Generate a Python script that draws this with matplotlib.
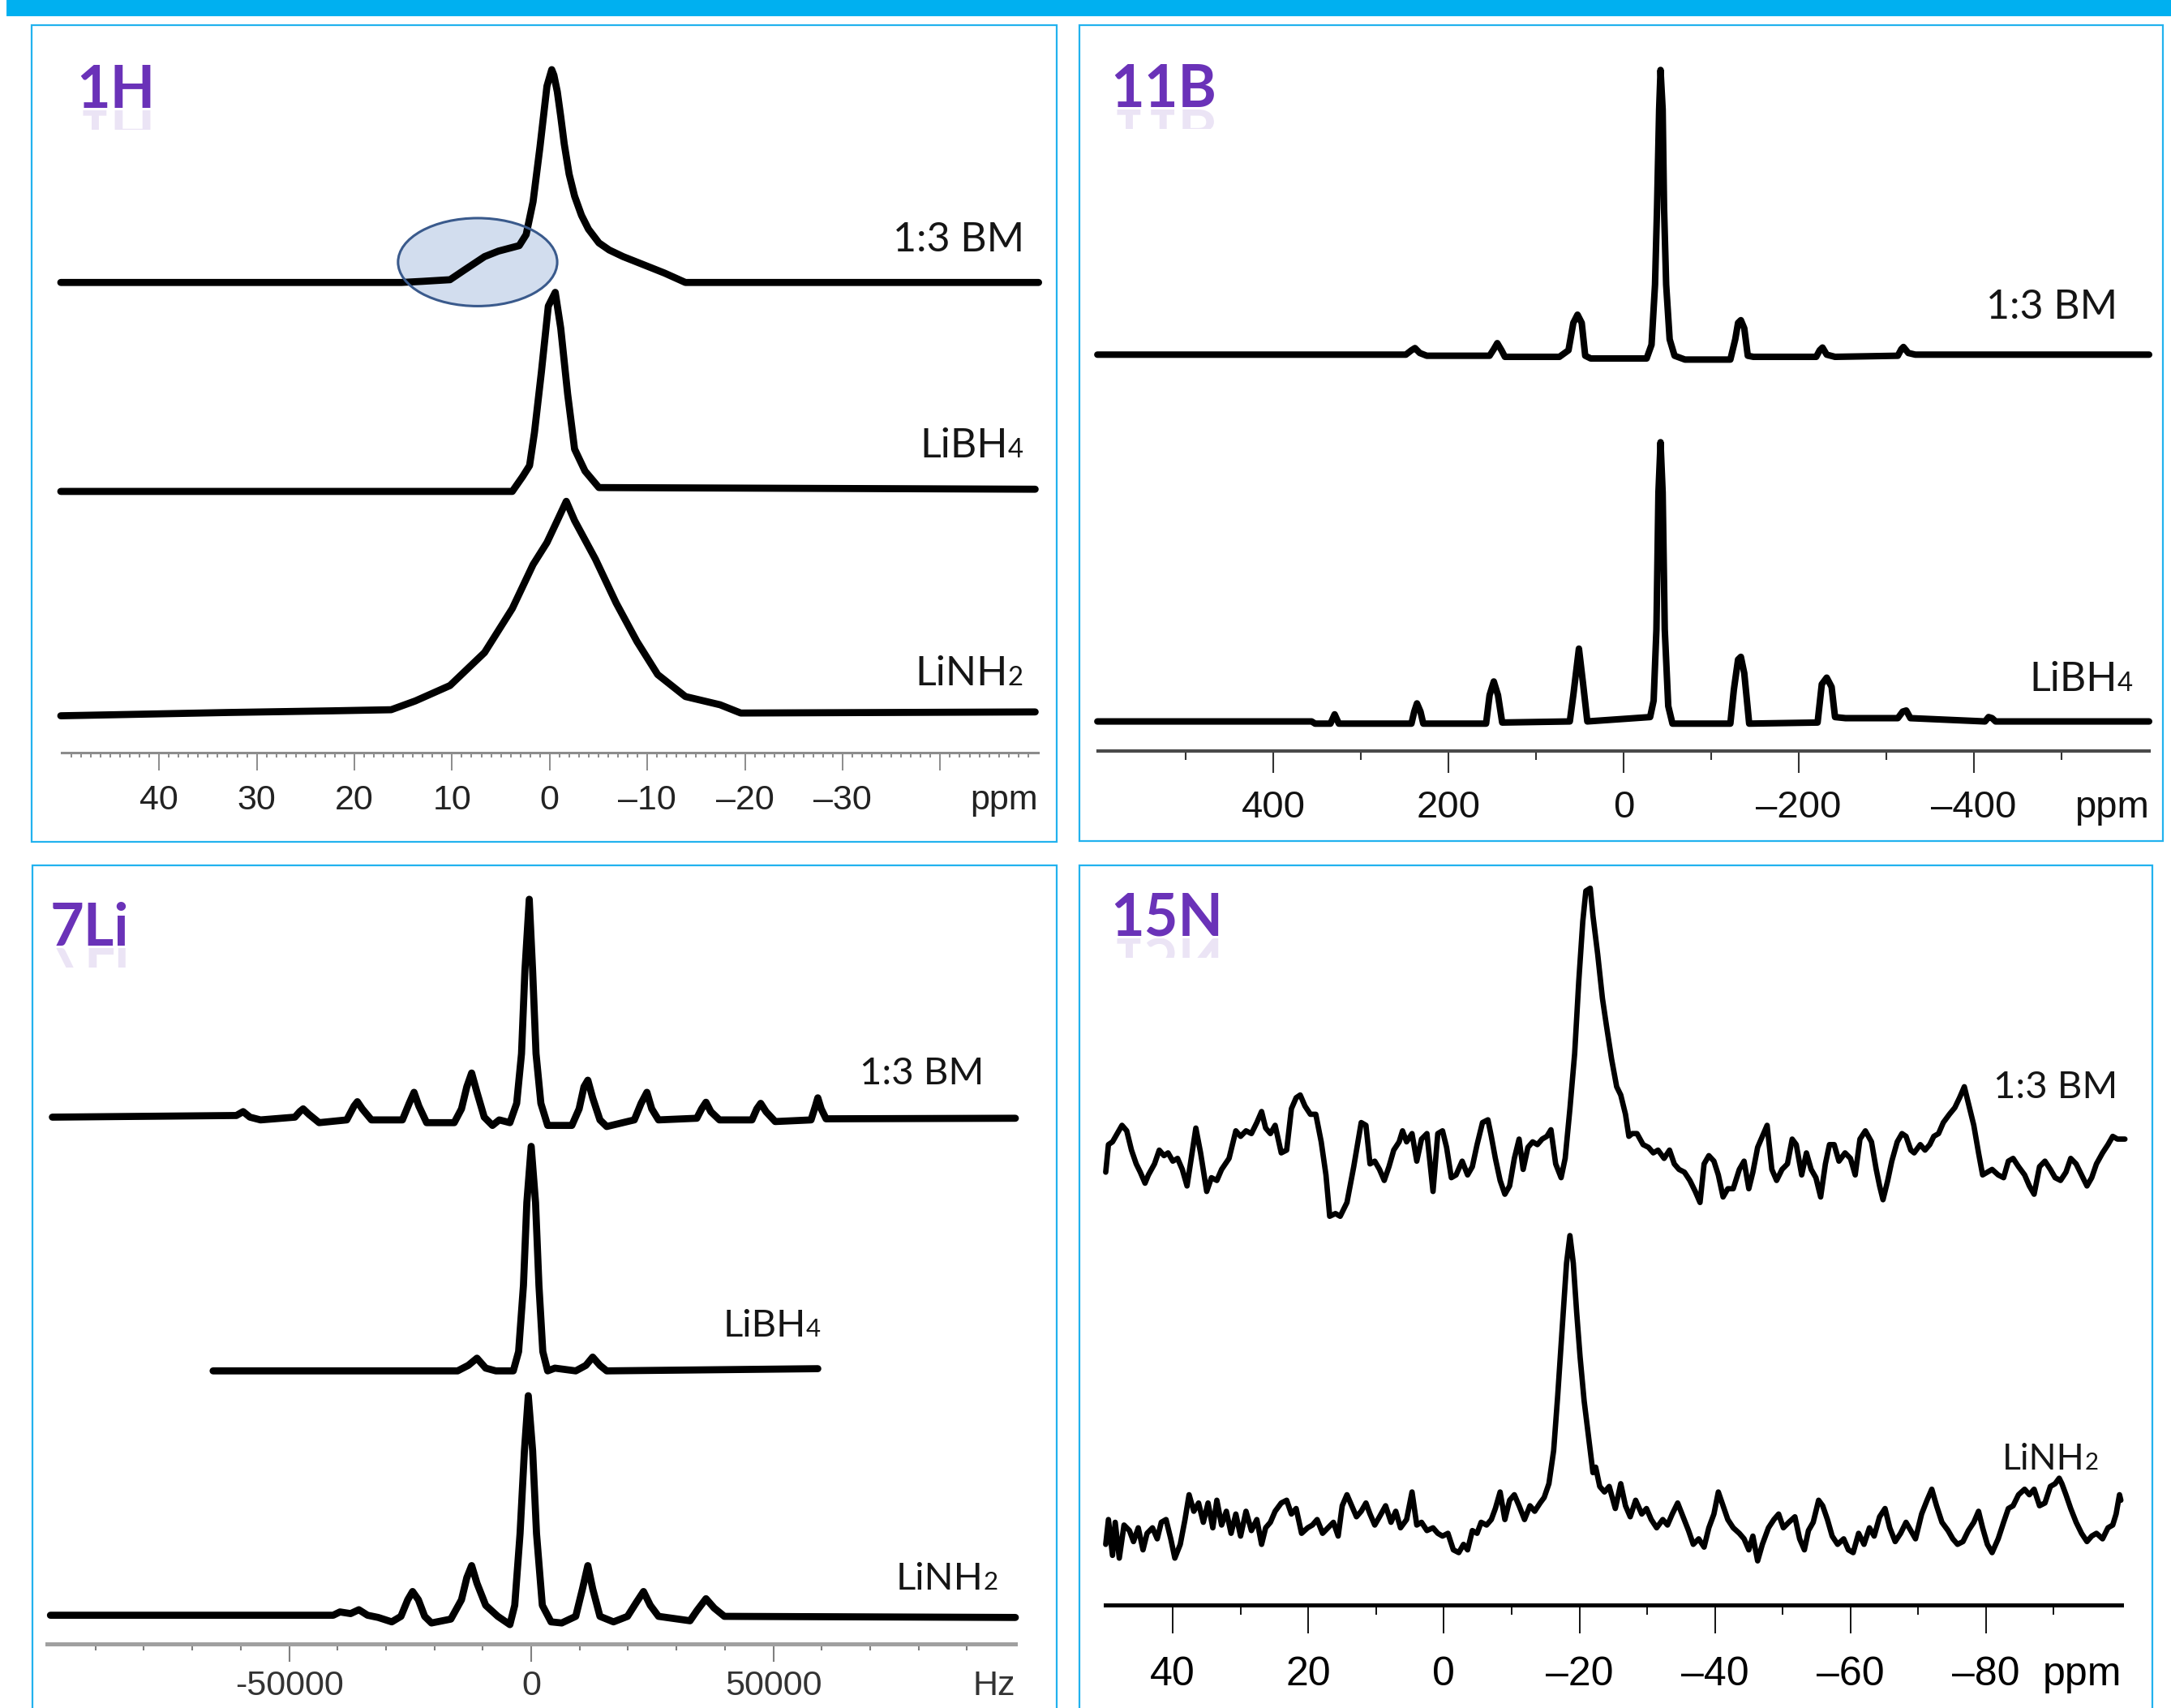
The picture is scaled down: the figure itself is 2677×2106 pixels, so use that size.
import os
import numpy as np
import matplotlib
matplotlib.use("Agg")
import matplotlib.pyplot as plt
from matplotlib import font_manager
from matplotlib.patches import Rectangle, Ellipse, PathPatch
from matplotlib.textpath import TextPath
from matplotlib.font_manager import FontProperties
from matplotlib.transforms import Affine2D, IdentityTransform
from matplotlib.ticker import FixedLocator

# ---------------- data ----------------
# 1H MAS spectra (ppm, intensity a.u.)
h1_bm_ppm = [50.07, 15.18, 13.05, 10.21, 8.79, 6.67, 5.25, 3.12, 2.41, 1.70, 0.99, 0.28,
             -0.21, -0.43, -0.78, -1.13, -1.49, -1.99, -2.55, -3.26, -3.97, -5.04, -6.10,
             -7.52, -9.65, -11.77, -13.9, -50.07]
h1_bm_int = [0, 0, 2, 5, 22, 47, 57, 67, 87, 147, 247, 357,
             387, 377, 347, 302, 252, 197, 157, 122, 97, 72, 59,
             47, 32, 17, 0, 0]
h1_libh4_ppm = [50.07, 3.83, 2.77, 2.06, 1.56, 0.85, 0.14, -0.57, -1.13, -1.84, -2.55, -3.62, -5.04, -49.72]
h1_libh4_int = [0, 0, 27, 47, 107, 217, 337, 362, 297, 177, 77, 37, 7, 4]
h1_linh2_ppm = [50.07, 44.26, 32.91, 22.27, 16.24, 13.76, 10.21, 6.67, 3.83, 1.70, 0.28, -0.78,
                -1.70, -2.55, -4.68, -6.81, -8.94, -11.06, -13.9, -17.45, -19.57, -49.72]
h1_linh2_int = [0, 2, 6, 9, 11, 27, 55, 115, 195, 275, 315, 355,
                390, 355, 285, 205, 135, 75, 35, 20, 5, 7]

# 11B MAS spectra (ppm, intensity a.u.)
b11_bm_ppm = [600.8, 248.6, 242.2, 238.2, 232.7, 224.7, 153.0, 148.2, 144.2, 139.4, 135.5, 73.3,
              62.9, 57.4, 52.6, 47.8, 43.8, 37.5, -26.3, -31.9, -35.9, -38.2, -40.6, -42.2,
              -44.6, -46.2, -48.6, -52.6, -58.2, -70.1, -121.9, -127.5, -130.7, -133.9, -137.8, -141.8,
              -148.2, -219.9, -223.9, -227.1, -231.9, -241.4, -313.1, -317.1, -319.5, -325.1, -333.1, -600.0]
b11_bm_int = [0, 0, 8, 12, 3, -2, -2, 10, 21, 8, -4, -4,
              8, 58, 73, 58, -2, -7, -7, 18, 128, 268, 448, 520,
              448, 268, 128, 28, -2, -9, -9, 28, 58, 63, 48, -2,
              -4, -4, 8, 13, 0, -4, -2, 10, 14, 3, 0, 0]
b11_libh4_ppm = [600.8, 356.2, 352.2, 334.7, 329.9, 325.1, 242.2, 239.0, 235.9, 231.9, 228.7, 157.0,
                 153.0, 148.2, 143.4, 138.6, 61.4, 57.4, 51.0, 46.2, 41.4, -30.3, -34.3, -37.5,
                 -39.8, -42.2, -44.6, -47.0, -51.0, -55.8, -121.9, -125.9, -130.7, -133.9, -137.8, -143.4,
                 -221.5, -226.3, -231.9, -237.5, -241.4, -253.4, -313.1, -318.7, -322.7, -327.5, -412.7, -416.7,
                 -420.7, -424.7, -600.0]
b11_libh4_int = [0, 0, -4, -4, 13, -4, -4, 18, 33, 18, -4, -4,
                 48, 73, 48, -2, 0, 48, 133, 68, 0, 8, 38, 168,
                 418, 510, 418, 168, 28, -4, -4, 58, 113, 118, 88, -4,
                 -2, 68, 80, 63, 8, 6, 6, 18, 20, 6, 0, 8,
                 6, 0, 0]

# 7Li MAS spectra (Hz, intensity a.u.)
li7_bm_hz = [-98900, -60900, -59500, -58100, -55900, -48800, -47800, -47100, -45900, -43800,
             -38100, -36600, -35900, -34900, -33000, -26600, -25200, -24200, -23200, -21600,
             -15900, -14400, -13300, -12300, -11200, -9700, -8000, -6600, -4400, -3000,
             -2000, -1300, -400, 300, 1000, 2000, 3400, 8400, 9900, 10900,
             11700, 12700, 14200, 15600, 21300, 22700, 23900, 24900, 26300, 34200,
             35200, 36100, 37100, 38900, 45600, 46600, 47400, 48500, 50400, 57800,
             58700, 59200, 59900, 60900, 100000]
li7_bm_int = [0, 3, 10, 0, -5, 0, 10, 15, 5, -10,
              -5, 20, 28, 15, -5, -5, 25, 45, 20, -10,
              -10, 15, 55, 80, 45, 0, -15, -5, -10, 25,
              115, 265, 395, 265, 115, 25, -15, -15, 15, 55,
              67, 35, -5, -17, -5, 25, 45, 15, -5, -2,
              15, 27, 10, -5, -5, 15, 25, 10, -8, -5,
              20, 35, 15, -3, -2]
li7_libh4_hz = [-65700, -15200, -13000, -11200, -9400, -7300, -3700, -2600, -1600, -900, 0,
                900, 1600, 2400, 3400, 4900, 9200, 11300, 12700, 14200, 15600, 59200]
li7_libh4_int = [0, 0, 10, 23, 5, 0, 0, 35, 155, 305, 407,
                 305, 155, 35, 0, 5, 0, 10, 25, 10, 0, 4]
li7_linh2_hz = [-99300, -40900, -39500, -37300, -35600, -33800, -31600, -28800, -26900, -25500,
                -24500, -23300, -22000, -20600, -16600, -14400, -13300, -12300, -11200, -9400,
                -6900, -4400, -3400, -2300, -1400, -600, 300, 1100, 2300, 4100,
                6300, 9200, 10600, 11700, 12700, 14200, 17000, 19900, 21700, 23200,
                24600, 26300, 32800, 34200, 36100, 37800, 39900, 100000]
li7_linh2_int = [2, 2, 8, 5, 12, 2, -2, -10, 0, 30,
                 45, 30, 0, -12, -5, 30, 70, 92, 60, 20,
                 0, -15, 20, 150, 300, 400, 300, 150, 20, -10,
                 -12, 0, 50, 92, 50, 0, -10, 0, 25, 45,
                 20, 0, -8, 10, 32, 15, 0, -2]

# 15N MAS spectra (ppm, intensity a.u.)
n15_bm_ppm = [49.9, 49.5, 48.9, 48.2, 47.5, 46.8, 46.1, 45.4, 44.8, 44.1,
              43.6, 42.7, 42.0, 41.3, 40.7, 40.0, 39.3, 38.6, 37.9, 37.4,
              36.6, 35.9, 35.0, 34.3, 33.5, 32.8, 31.7, 30.7, 30.0, 29.2,
              28.4, 27.6, 26.9, 26.3, 25.6, 24.9, 24.0, 23.2, 22.5, 21.8,
              21.2, 20.5, 19.7, 18.9, 18.1, 17.4, 16.85, 16.0, 15.3, 14.3,
              13.3, 12.2, 11.5, 10.9, 10.2, 9.5, 8.8, 8.1, 7.4, 6.6,
              6.1, 5.5, 4.7, 4.0, 3.3, 2.5, 1.6, 0.9, 0.2, -0.4,
              -1.1, -1.8, -2.7, -3.5, -4.2, -4.9, -5.7, -6.5, -7.0, -7.6,
              -8.3, -9.0, -9.7, -10.4, -11.1, -11.7, -12.4, -13.1, -13.8, -14.5,
              -15.2, -15.8, -16.5, -17.3, -17.9, -18.6, -19.3, -19.9, -20.5, -20.95,
              -21.6, -22.0, -22.7, -23.4, -24.0, -24.75, -25.5, -26.1, -26.8, -27.3,
              -27.8, -28.5, -29.4, -30.2, -30.9, -31.6, -32.5, -33.3, -34.0, -34.7,
              -35.5, -36.3, -37.1, -37.8, -38.4, -39.1, -39.85, -40.5, -41.2, -41.9,
              -42.7, -43.6, -44.3, -45.0, -45.6, -46.3, -47.0, -47.7, -48.4, -49.1,
              -49.9, -50.7, -51.4, -52.0, -52.8, -53.5, -54.2, -54.9, -55.6, -56.3,
              -56.9, -57.6, -58.3, -59.2, -60.0, -60.7, -61.4, -62.2, -63.1, -63.8,
              -64.3, -64.8, -65.5, -66.1, -66.9, -67.6, -68.2, -68.9, -69.4, -70.3,
              -71.0, -71.7, -72.3, -73.0, -73.7, -74.6, -75.4, -76.1, -76.8, -77.4,
              -78.2, -78.9, -79.5, -80.2, -80.9, -81.8, -82.6, -83.3, -84.0, -84.8,
              -85.7, -86.4, -87.1, -87.9, -88.7, -89.5, -90.2, -91.0, -91.8, -92.5,
              -93.3, -94.1, -94.9, -95.6, -96.3, -97.2, -98.0, -98.7, -99.4, -100.5]
n15_bm_int = [-5, 45, 50, 65, 80, 70, 35, 10, -5, -25,
              -10, 10, 35, 25, 30, 15, 20, 0, -30, 10,
              75, 30, -40, -15, -20, 0, 20, 70, 60, 70,
              65, 85, 105, 75, 65, 80, 30, 35, 110, 130,
              135, 115, 100, 100, 50, -10, -85, -80, -85, -60,
              5, 85, 80, 10, 15, 0, -20, 5, 35, 50,
              70, 50, 65, 15, 55, 65, -40, 65, 70, 40,
              -15, -10, 15, -10, 5, 45, 85, 90, 60, 20,
              -20, -45, -30, 20, 55, 0, 40, 50, 45, 55,
              60, 72, 10, -15, 20, 110, 210, 340, 450, 505,
              510, 460, 390, 310, 260, 200, 150, 135, 100, 60,
              65, 65, 45, 40, 30, 35, 20, 35, 10, 0,
              -5, -20, -40, -60, 10, 25, 15, -10, -50, -35,
              -35, 0, 15, -35, -5, 40, 60, 80, 0, -20,
              0, 10, 55, 45, -10, 30, 0, -15, -50, 10,
              45, 45, 15, 30, 20, -10, 55, 70, 50, 0,
              -30, -55, -20, 15, 50, 65, 60, 35, 30, 45,
              35, 45, 60, 65, 85, 100, 112, 130, 150, 120,
              80, 30, -10, -5, 0, -10, -15, 15, 20, 5,
              -10, -30, -45, 5, 15, 0, -15, -20, -5, 20,
              10, -10, -30, -15, 10, 30, 45, 60, 55, 55]
n15_linh2_ppm = [49.9, 49.5, 48.9, 48.5, 47.9, 47.2, 46.4, 45.8, 45.1, 44.4,
                 43.8, 43.0, 42.3, 41.7, 41.0, 40.3, 39.7, 38.9, 38.2, 37.6,
                 36.9, 36.2, 35.5, 34.8, 34.1, 33.5, 32.8, 32.1, 31.4, 30.7,
                 30.0, 29.2, 28.4, 27.6, 26.9, 26.3, 25.6, 24.9, 24.0, 23.2,
                 22.5, 21.8, 21.0, 20.1, 19.4, 18.7, 17.9, 17.1, 16.3, 15.6,
                 15.0, 14.3, 13.6, 12.9, 12.2, 11.5, 10.9, 10.2, 9.5, 8.6,
                 7.8, 7.1, 6.4, 5.5, 4.7, 4.0, 3.3, 2.5, 1.6, 0.9,
                 0.2, -0.6, -1.4, -2.2, -2.9, -3.5, -4.2, -4.9, -5.5, -6.3,
                 -7.0, -7.6, -8.3, -9.0, -9.7, -10.4, -11.1, -11.9, -12.7, -13.4,
                 -14.2, -14.8, -15.5, -16.2, -16.8, -17.5, -18.1, -18.6, -19.1, -19.6,
                 -20.1, -20.7, -21.4, -22.0, -22.4, -23.0, -23.7, -24.4, -25.3, -26.1,
                 -26.8, -27.5, -28.3, -29.2, -29.9, -30.6, -31.4, -32.3, -33.0, -33.7,
                 -34.5, -35.3, -36.1, -36.8, -37.6, -38.4, -39.1, -39.85, -40.5, -41.2,
                 -41.9, -42.7, -43.6, -44.3, -45.0, -45.6, -46.3, -47.0, -47.9, -48.7,
                 -49.4, -50.1, -50.9, -51.8, -52.5, -53.2, -53.8, -54.5, -55.3, -55.9,
                 -56.6, -57.3, -58.1, -59.0, -59.7, -60.4, -61.2, -62.0, -62.8, -63.5,
                 -64.3, -65.1, -65.8, -66.6, -67.4, -68.2, -68.9, -69.6, -70.5, -71.3,
                 -72.0, -72.7, -73.5, -74.4, -75.1, -75.8, -76.6, -77.4, -78.2, -78.9,
                 -79.5, -80.2, -80.9, -81.8, -82.6, -83.3, -84.0, -84.8, -85.7, -86.4,
                 -87.1, -87.9, -88.7, -89.5, -90.2, -90.8, -91.2, -91.8, -92.5, -93.3,
                 -94.1, -94.9, -95.6, -96.3, -97.2, -98.0, -98.7, -99.2, -99.7, -99.9]
n15_linh2_int = [-30, 15, -50, 10, -55, 5, -5, -25, 0, -40,
                 -10, 0, -20, 10, 15, -20, -55, -30, 15, 60,
                 30, 45, 10, 45, 0, 50, 5, 30, -10, 25,
                 -15, 30, -5, 15, -30, 0, 10, 30, 45, 50,
                 25, 35, -10, 0, 5, 15, -10, 0, 10, -15,
                 40, 60, 40, 20, 30, 45, 25, 5, 20, 40,
                 10, 30, 0, 15, 65, 5, 10, -5, 0, -10,
                 -15, -10, -40, -45, -30, -40, -5, -10, 10, 5,
                 15, 35, 65, 15, 50, 60, 40, 15, 40, 30,
                 45, 55, 80, 140, 240, 370, 480, 530, 480, 390,
                 310, 230, 160, 100, 110, 75, 65, 75, 35, 80,
                 40, 20, 50, 25, 35, 15, 0, 15, 5, 25,
                 45, 20, -5, -30, -20, -35, 0, 25, 65, 40,
                 15, 0, -10, -20, -40, -15, -60, -30, 0, 15,
                 25, 0, 10, 20, -20, -40, -5, 10, 50, 40,
                 15, -15, -30, -20, -40, -45, -10, -30, 0, -15,
                 20, 35, 0, -25, -10, 10, -5, -20, 25, 50,
                 70, 40, 10, -5, -20, -30, -25, -5, 10, 30,
                 0, -30, -45, -20, 10, 35, 40, 60, 70, 60,
                 70, 40, 45, 75, 80, 90, 80, 60, 35, 10,
                 -10, -25, -15, -10, -20, 0, 5, 25, 60, 50]

# ---------------- figure ----------------
W, H = 2677, 2106
fig = plt.figure(figsize=(W / 100, H / 100), dpi=100)
fig.patch.set_facecolor("white")

# condensed face for the axis numbers if one is installed
narrow_path = None
for f in font_manager.fontManager.ttflist:
    if "liberationsansnarrow-regular" in os.path.basename(f.fname).lower():
        narrow_path = f.fname
        break
if narrow_path:
    TICK_FP = FontProperties(fname=narrow_path)
    tick_sizes = {"1H": 32, "11B": 35, "15N": 42}
else:
    TICK_FP = FontProperties(family="Liberation Sans")
    tick_sizes = {"1H": 31, "11B": 34, "15N": 36}
SANS_FP = FontProperties(family="Liberation Sans")
LABEL_FONT = ["Lato", "DejaVu Sans"]
CYAN = "#00B0F0"
FRAME = "#22B2EE"
PURPLE = "#6A32B8"


def panel_axes(x0, x1, y_axis, y_top):
    # pixel box -> figure fraction
    return fig.add_axes([x0 / W, 1 - y_axis / H, (x1 - x0) / W, (y_axis - y_top) / H])


def frame(x0, y0, x1, y1):
    fig.add_artist(Rectangle((x0 / W, 1 - y1 / H), (x1 - x0) / W, (y1 - y0) / H,
                             transform=fig.transFigure, fill=False, edgecolor=FRAME, lw=1.6))


def setup(ax, xlim, ytop, major, labels, minor, unit, line_c, line_w, tick_c, tick_w,
          maj_len, min_len, size, fp, lab_c, pad):
    ax.set_xlim(*xlim)
    ax.set_ylim(0, ytop)
    ax.set_facecolor("none")
    for s in ("top", "left", "right"):
        ax.spines[s].set_visible(False)
    ax.spines["bottom"].set_color(line_c)
    ax.spines["bottom"].set_linewidth(line_w)
    ax.yaxis.set_visible(False)
    ax.set_xticks(major)
    fp = fp.copy()
    fp.set_size(size)
    ax.set_xticklabels(labels, fontproperties=fp, color=lab_c)
    ax.xaxis.set_minor_locator(FixedLocator(minor))
    ax.tick_params(axis="x", which="major", direction="out", length=maj_len, width=tick_w,
                   color=tick_c, pad=pad)
    ax.tick_params(axis="x", which="minor", direction="out", length=min_len, width=tick_w,
                   color=tick_c)
    ax.annotate(unit, xy=(1, 0), xycoords="axes fraction", xytext=(0, -(maj_len + pad)),
                textcoords="offset points", ha="right", va="top", fontproperties=fp,
                color=lab_c)


def trace(ax, x, y, offset, lw):
    ax.plot(x, np.asarray(y) + offset, color="black", lw=lw, solid_joinstyle="round",
            solid_capstyle="round", clip_on=False, zorder=2)


def sample(ax, x, y, main, sub=None, size=36):
    ax.text(x, y, main, ha="right", va="baseline", fontsize=size, family=LABEL_FONT,
            color="#151515", zorder=4)
    if sub:
        ax.text(x, y, sub, ha="left", va="baseline", fontsize=size * 0.66,
                family=LABEL_FONT, color="#151515", zorder=4)


def heading(txt, x, ybase, size_px=72):
    fig.text(x / W, 1 - ybase / H, txt, fontsize=size_px * 72 / 100, fontweight="bold",
             family=LABEL_FONT, color=PURPLE, ha="left", va="baseline")
    # faint mirror reflection under the heading
    fp = FontProperties(family="Lato", weight="bold")
    tp = TextPath((0, 0), txt, size=size_px, prop=fp)
    yb = H - ybase - 3
    tr = Affine2D().scale(1, -1).translate(x, yb)
    refl = PathPatch(tp, transform=tr, facecolor=PURPLE, edgecolor="none", alpha=0.13)
    fig.add_artist(refl)
    clip = Rectangle((x - 10, yb - 24), 400, 24, transform=IdentityTransform())
    refl.set_clip_path(clip)


# top banner
fig.add_artist(Rectangle((8 / W, 1 - 20 / H), (W - 8) / W, 20 / H, transform=fig.transFigure,
                         facecolor=CYAN, edgecolor="none"))

# panel frames
frame(39, 31, 1303, 1038)
frame(1331, 31, 2667, 1037)
frame(40, 1067, 1303, 2130)
frame(1331, 1067, 2654, 2130)

# ---------------- 1H ----------------
ax1 = panel_axes(75.8, 1279.8, 928, 29.6)
setup(ax1, (50, -50), 1325, [40, 30, 20, 10, 0, -10, -20, -30, -40],
      ["40", "30", "20", "10", "0", "\u201310", "\u201320", "\u201330", ""],
      list(range(-49, 50)), "ppm", "#8c8c8c", 2.2, "#8c8c8c", 1.4, 15.8, 4.3,
      tick_sizes["1H"], TICK_FP, "#222222", 12)
trace(ax1, h1_bm_ppm, h1_bm_int, 855, 6.3)
trace(ax1, h1_libh4_ppm, h1_libh4_int, 475, 6.3)
trace(ax1, h1_linh2_ppm, h1_linh2_int, 67, 6.3)
ax1.add_patch(Ellipse((7.38, 892), 16.3, 160, facecolor="#D2DDEE", edgecolor="none", zorder=1))
ax1.add_patch(Ellipse((7.38, 892), 16.3, 160, fill=False, edgecolor="#3A5A8C", lw=2.2, zorder=3))
sample(ax1, -48.65, 912, "1:3 BM")
sample(ax1, -46.9, 537, "LiBH", "4")
sample(ax1, -46.9, 122, "LiNH", "2")
heading("1H", 94, 133)

# ---------------- 11B ----------------
ax2 = panel_axes(1354, 2650, 926, 31.6)
setup(ax2, (600, -600), 1325, [400, 200, 0, -200, -400],
      ["400", "200", "0", "\u2013200", "\u2013400"],
      [500, 300, 100, -100, -300, -500], "ppm", "#4a4a4a", 3.0, "#333333", 1.5, 19.4, 7.9,
      tick_sizes["11B"], TICK_FP, "#111111", 15.5)
trace(ax2, b11_bm_ppm, b11_bm_int, 724, 5.8)
trace(ax2, b11_libh4_ppm, b11_libh4_int, 54, 5.8)
sample(ax2, -564, 789, "1:3 BM")
sample(ax2, -564, 110, "LiBH", "4")
heading("11B", 1369, 132)

# ---------------- 7Li ----------------
ax3 = panel_axes(58, 1252, 2027, 1068)
setup(ax3, (-100000, 100000), 1410, [-50000, 0, 50000], ["-50000", "0", "50000"],
      [-90000, -80000, -70000, -60000, -40000, -30000, -20000, -10000,
       10000, 20000, 30000, 40000, 60000, 70000, 80000, 90000],
      "Hz", "#a0a0a0", 3.6, "#808080", 1.5, 15.8, 5.8, 31, SANS_FP, "#333333", 7)
trace(ax3, li7_bm_hz, li7_bm_int, 955, 6.3)
trace(ax3, li7_libh4_hz, li7_libh4_int, 495, 6.3)
trace(ax3, li7_linh2_hz, li7_linh2_int, 50, 6.3)
sample(ax3, 93560, 1015, "1:3 BM", size=34)
sample(ax3, 56800, 557, "LiBH", "4", size=34)
sample(ax3, 93300, 98, "LiNH", "2", size=34)
heading("7Li", 62, 1166)

# ---------------- 15N ----------------
ax4 = panel_axes(1362.6, 2616, 1979, 1068)
setup(ax4, (50, -100), 1340, [40, 20, 0, -20, -40, -60, -80],
      ["40", "20", "0", "\u201320", "\u201340", "\u201360", "\u201380"],
      [30, 10, -10, -30, -50, -70, -90], "ppm", "black", 3.6, "black", 1.3, 25.2, 8.6,
      tick_sizes["15N"], TICK_FP, "black", 20)
trace(ax4, n15_bm_ppm, n15_bm_int, 790, 4.8)
trace(ax4, n15_linh2_ppm, n15_linh2_int, 140, 4.8)
sample(ax4, -99.4, 920, "1:3 BM", size=34)
sample(ax4, -94.6, 245, "LiNH", "2", size=32)
heading("15N", 1369, 1154)

fig.savefig("out.png", dpi=100, facecolor="white")
